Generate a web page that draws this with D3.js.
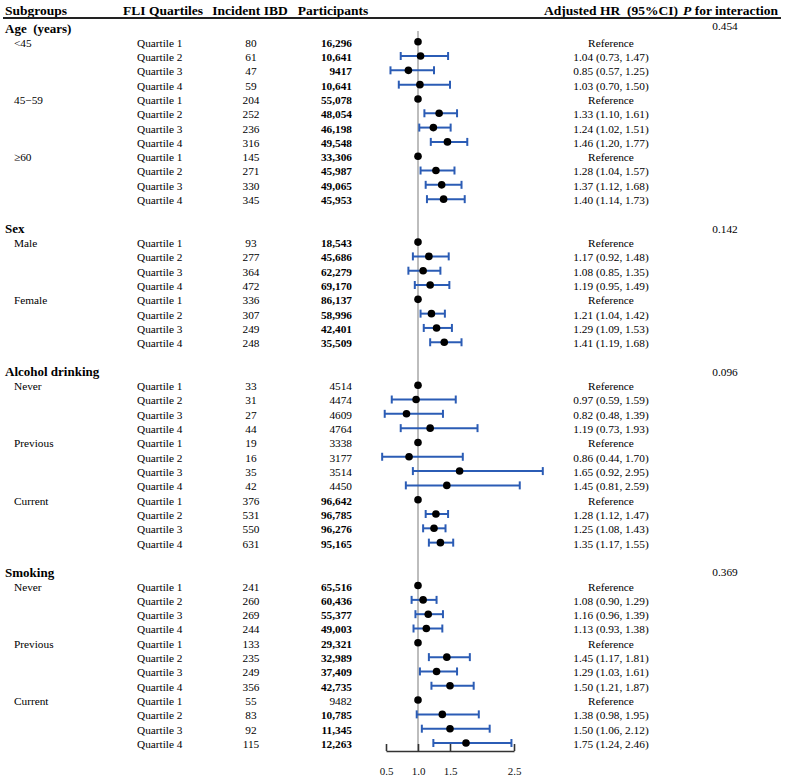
<!DOCTYPE html>
<html>
<head>
<meta charset="utf-8">
<script src="https://cdn.jsdelivr.net/npm/d3@7"></script>
<style>
  body { margin: 0; background: #fff; }
  svg { font-family: "Liberation Serif", "Times New Roman", serif; }
</style>
</head>
<body>
<svg width="786" height="782"></svg>
<script>
const width = 786;
const height = 782;

const groups = ["Age  (years)", "Sex", "Alcohol drinking", "Smoking"];
const pInteraction = ["0.454", "0.142", "0.096", "0.369"];
const subgroups = [
  ["<45", "45\u221259", "\u226560"],
  ["Male", "Female"],
  ["Never", "Previous", "Current"],
  ["Never", "Previous", "Current"]
];
const quartiles = ["Quartile 1", "Quartile 2", "Quartile 3", "Quartile 4"];

// one inner array per subgroup, in order
const incident = [
  [80, 61, 47, 59], [204, 252, 236, 316], [145, 271, 330, 345],
  [93, 277, 364, 472], [336, 307, 249, 248],
  [33, 31, 27, 44], [19, 16, 35, 42], [376, 531, 550, 631],
  [241, 260, 269, 244], [133, 235, 249, 356], [55, 83, 92, 115]
];
const participants = [
  [16296, 10641, 9417, 10641], [55078, 48054, 46198, 49548], [33306, 45987, 49065, 45953],
  [18543, 45686, 62279, 69170], [86137, 58996, 42401, 35509],
  [4514, 4474, 4609, 4764], [3338, 3177, 3514, 4450], [96642, 96785, 96276, 95165],
  [65516, 60436, 55377, 49003], [29321, 32989, 37409, 42735], [9482, 10785, 11345, 12263]
];
const hr = [
  [1, 1.04, 0.85, 1.03], [1, 1.33, 1.24, 1.46], [1, 1.28, 1.37, 1.40],
  [1, 1.17, 1.08, 1.19], [1, 1.21, 1.29, 1.41],
  [1, 0.97, 0.82, 1.19], [1, 0.86, 1.65, 1.45], [1, 1.28, 1.25, 1.35],
  [1, 1.08, 1.16, 1.13], [1, 1.45, 1.29, 1.50], [1, 1.38, 1.50, 1.75]
];
const lower = [
  [null, 0.73, 0.57, 0.70], [null, 1.10, 1.02, 1.20], [null, 1.04, 1.12, 1.14],
  [null, 0.92, 0.85, 0.95], [null, 1.04, 1.09, 1.19],
  [null, 0.59, 0.48, 0.73], [null, 0.44, 0.92, 0.81], [null, 1.12, 1.08, 1.17],
  [null, 0.90, 0.96, 0.93], [null, 1.17, 1.03, 1.21], [null, 0.98, 1.06, 1.24]
];
const upper = [
  [null, 1.47, 1.25, 1.50], [null, 1.61, 1.51, 1.77], [null, 1.57, 1.68, 1.73],
  [null, 1.48, 1.35, 1.49], [null, 1.42, 1.53, 1.68],
  [null, 1.59, 1.39, 1.93], [null, 1.70, 2.95, 2.59], [null, 1.47, 1.43, 1.55],
  [null, 1.29, 1.39, 1.38], [null, 1.81, 1.61, 1.87], [null, 1.95, 2.12, 2.46]
];
const xTicks = [0.5, 1.0, 1.5, 2.5];
// participant counts printed in regular weight in the original table
const plainCounts = [[5, 0], [5, 1], [5, 2], [5, 3], [6, 0], [6, 1], [6, 2], [6, 3], [10, 0]];

// build row list: header, then 4 quartile rows per subgroup, blank between groups
const headers = [];
const rows = [];
let idx = 0, sg = 0;
groups.forEach((g, gi) => {
  if (gi > 0) idx++;
  headers.push({ name: g, p: pInteraction[gi], i: idx });
  idx++;
  subgroups[gi].forEach(s => {
    quartiles.forEach((q, qi) => {
      rows.push({
        sub: qi === 0 ? s : "", q, i: idx,
        n: incident[sg][qi], part: participants[sg][qi],
        plain: plainCounts.some(([a, b]) => a === sg && b === qi),
        hr: hr[sg][qi], lo: lower[sg][qi], hi: upper[sg][qi]
      });
      idx++;
    });
    sg++;
  });
});

const svg = d3.select("svg");

const y = d3.scaleLinear().domain([0, idx - 1]).range([28.4, 744]);
const x = d3.scaleLinear().domain([0.5, 2.5]).range([386, 514]);

const fmtPart = v => v >= 10000 ? d3.format(",")(v) : String(v);
const f2 = d3.format(".2f");

// column headers
const head = svg.append("g").attr("font-weight", "bold").attr("font-size", 13.5);
head.append("text").attr("x", 5).attr("y", 15).text("Subgroups");
head.append("text").attr("x", 163).attr("y", 15).attr("text-anchor", "middle").text("FLI Quartiles");
head.append("text").attr("x", 250).attr("y", 15).attr("text-anchor", "middle").text("Incident IBD");
head.append("text").attr("x", 333).attr("y", 15).attr("text-anchor", "middle").text("Participants");
head.append("text").attr("x", 611).attr("y", 15).attr("text-anchor", "middle")
  .attr("xml:space", "preserve").text("Adjusted HR  (95%CI)");
const pHead = head.append("text").attr("x", 778).attr("y", 15).attr("text-anchor", "end");
pHead.append("tspan").attr("font-style", "italic").text("P");
pHead.append("tspan").text(" for interaction");

svg.append("line")
  .attr("x1", 3).attr("x2", 781).attr("y1", 18).attr("y2", 18)
  .attr("stroke", "#222").attr("stroke-width", 2);

// group headers and p values
svg.selectAll(".grp").data(headers).enter().append("text")
  .attr("x", 5).attr("y", d => y(d.i)).attr("dy", "0.35em")
  .attr("font-weight", "bold").attr("font-size", 13)
  .attr("xml:space", "preserve")
  .text(d => d.name);

svg.selectAll(".pval").data(headers).enter().append("text")
  .attr("x", 725).attr("y", d => y(d.i) - (d.i === 0 ? 2 : 0)).attr("dy", "0.35em")
  .attr("text-anchor", "middle").attr("font-size", 11.3)
  .text(d => d.p);

// table columns
const body = svg.append("g").attr("font-size", 11.3);
body.selectAll(".sub").data(rows.filter(d => d.sub)).enter().append("text")
  .attr("x", 14).attr("y", d => y(d.i)).attr("dy", "0.35em").text(d => d.sub);
body.selectAll(".q").data(rows).enter().append("text")
  .attr("x", 137).attr("y", d => y(d.i)).attr("dy", "0.35em").text(d => d.q);
body.selectAll(".n").data(rows).enter().append("text")
  .attr("x", 251).attr("y", d => y(d.i)).attr("dy", "0.35em")
  .attr("text-anchor", "middle").text(d => d.n);
body.selectAll(".part").data(rows).enter().append("text")
  .attr("x", 352).attr("y", d => y(d.i)).attr("dy", "0.35em")
  .attr("text-anchor", "end").attr("font-weight", d => d.plain ? "normal" : "bold")
  .text(d => fmtPart(d.part));
body.selectAll(".hr").data(rows).enter().append("text")
  .attr("x", 611).attr("y", d => y(d.i)).attr("dy", "0.35em")
  .attr("text-anchor", "middle")
  .text(d => d.lo == null ? "Reference" : `${f2(d.hr)} (${f2(d.lo)}, ${f2(d.hi)})`);

// reference line at HR = 1
svg.append("line")
  .attr("x1", x(1)).attr("x2", x(1)).attr("y1", 31).attr("y2", 751)
  .attr("stroke", "#bdbdbd").attr("stroke-width", 2);

// confidence intervals
const ci = svg.append("g").attr("stroke", "#2b5cb5").attr("stroke-width", 2);
const ciRows = rows.filter(d => d.lo != null);
ci.selectAll(".ci").data(ciRows).enter().append("line")
  .attr("x1", d => x(d.lo)).attr("x2", d => x(d.hi))
  .attr("y1", d => y(d.i) - 1).attr("y2", d => y(d.i) - 1);
ci.selectAll(".capl").data(ciRows).enter().append("line")
  .attr("x1", d => x(d.lo)).attr("x2", d => x(d.lo))
  .attr("y1", d => y(d.i) - 5).attr("y2", d => y(d.i) + 3);
ci.selectAll(".caph").data(ciRows).enter().append("line")
  .attr("x1", d => x(d.hi)).attr("x2", d => x(d.hi))
  .attr("y1", d => y(d.i) - 5).attr("y2", d => y(d.i) + 3);

svg.selectAll(".dot").data(rows).enter().append("circle")
  .attr("cx", d => x(d.hr)).attr("cy", d => y(d.i) - 1)
  .attr("r", 3.8).attr("fill", "#000");

// x axis, ticks pointing up
const axis = svg.append("g")
  .attr("transform", "translate(0,751)")
  .call(d3.axisBottom(x).tickValues(xTicks).tickFormat(d3.format(".1f"))
    .tickSizeInner(-7).tickSizeOuter(0).tickPadding(16));
axis.select(".domain").attr("stroke", "#333").attr("stroke-width", 1.6);
axis.selectAll(".tick line").attr("stroke", "#333").attr("stroke-width", 1.6);
axis.selectAll(".tick text")
  .attr("font-family", "Liberation Serif, serif").attr("font-size", 11)
  .attr("fill", "#111");
</script>
</body>
</html>
